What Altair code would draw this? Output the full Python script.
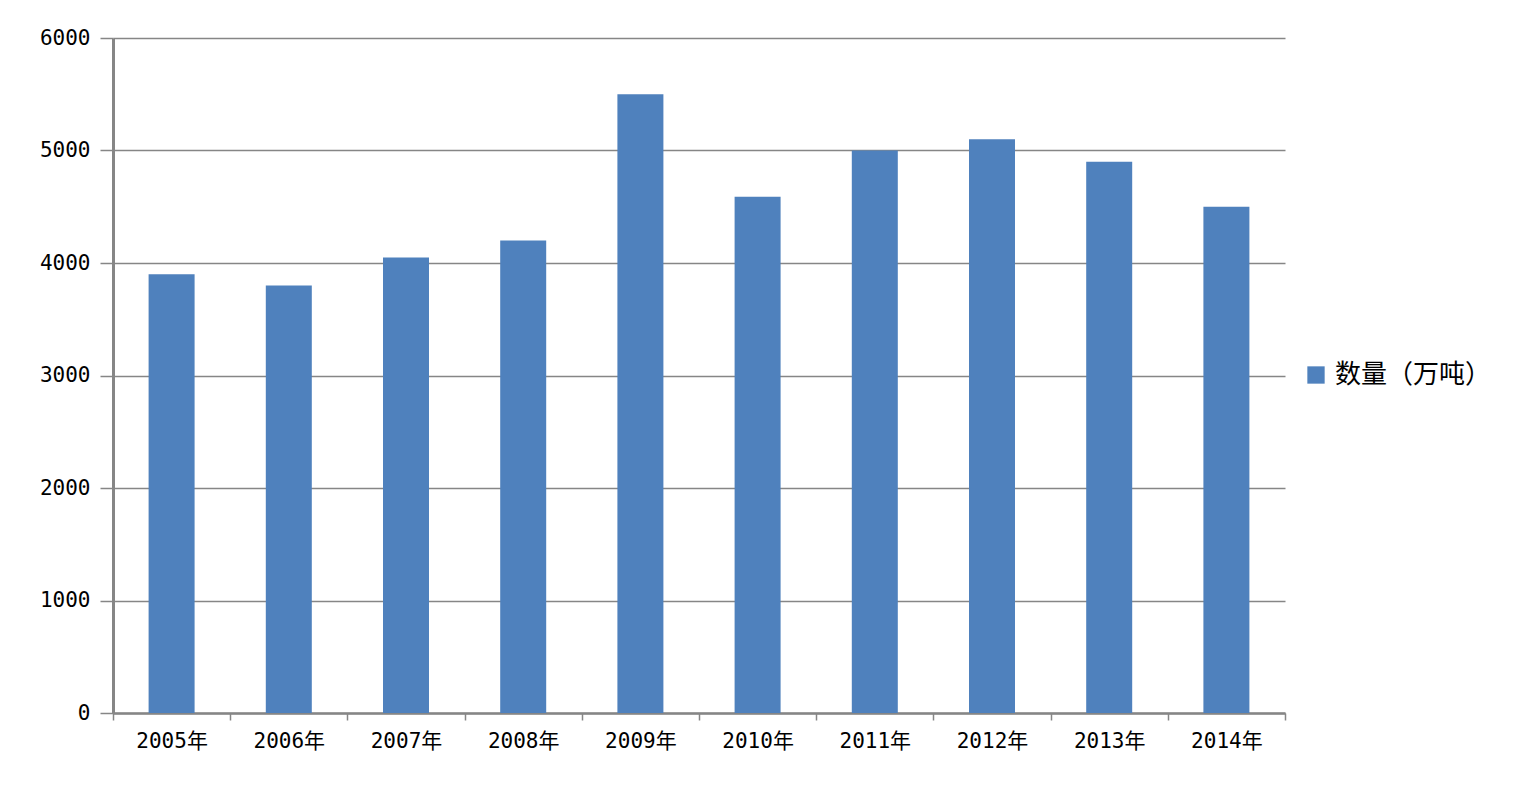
import altair as alt
import pandas as pd

years = ["2005年", "2006年", "2007年", "2008年", "2009年", "2010年", "2011年", "2012年", "2013年", "2014年"]
values = [3900, 3800, 4050, 4200, 5500, 4590, 5000, 5100, 4900, 4500]
series = "数量（万吨）"
y_ticks = [0, 1000, 2000, 3000, 4000, 5000, 6000]

df = pd.DataFrame({"year": years, "value": values, "series": [series] * len(years)})

FONT = "DejaVu Sans Mono, Noto Sans CJK SC"

chart = alt.Chart(df).mark_bar(size=46).encode(
    x=alt.X("year:N", sort=years, title=None,
            scale=alt.Scale(paddingInner=0, paddingOuter=0),
            axis=alt.Axis(labelAngle=0, tickBand="extent", labelFontSize=21,
                          labelFont=FONT, labelColor="#000000", labelPadding=10,
                          domainColor="#868686", domainWidth=2.5,
                          tickColor="#868686", tickWidth=1.5, tickSize=7, grid=False)),
    y=alt.Y("value:Q", title=None,
            scale=alt.Scale(domain=[0, 6000], nice=False),
            axis=alt.Axis(values=y_ticks, format="d", labelFontSize=21, labelFont=FONT,
                          labelColor="#000000", labelPadding=10,
                          domainColor="#868686", domainWidth=3,
                          tickColor="#868686", tickWidth=1.5, tickSize=13,
                          gridColor="#868686", gridWidth=1.5)),
    color=alt.Color("series:N", title=None,
                    scale=alt.Scale(range=["#4F81BD"]),
                    legend=alt.Legend(orient="none", legendX=1190, legendY=324,
                                      symbolType="square", symbolSize=300,
                                      symbolStrokeWidth=0,
                                      labelFontSize=26, labelFont="Noto Sans CJK SC",
                                      labelColor="#000000", labelOffset=6)),
).properties(
    width=1172, height=675,
    autosize=alt.AutoSizeParams(type="none"),
    padding={"left": 105, "top": 30, "right": 240, "bottom": 84},
).configure(background="#ffffff").configure_view(stroke=None)

chart.save("out.html", embed_options={"renderer": "svg", "actions": False})
